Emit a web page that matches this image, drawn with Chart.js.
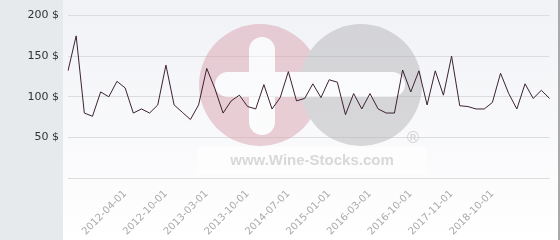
<!DOCTYPE html>
<html>
<head>
<meta charset="utf-8">
<script src="https://cdn.jsdelivr.net/npm/chart.js@4"></script>
<style>
  html, body { margin: 0; padding: 0; background: #ffffff; }
  #wrap { width: 560px; height: 240px; position: relative; }
</style>
</head>
<body>
<div id="wrap"><canvas id="c" width="560" height="240"></canvas></div>
<script>
// ---- data ----
const categories = [
  '2011-08-01','2011-09-01','2011-10-01','2011-11-01','2011-12-01','2012-02-01','2012-03-01',
  '2012-04-01','2012-05-01','2012-06-01','2012-07-01','2012-09-01',
  '2012-10-01','2012-11-01','2012-12-01','2013-01-01','2013-02-01',
  '2013-03-01','2013-04-01','2013-05-01','2013-07-01','2013-09-01',
  '2013-10-01','2013-12-01','2014-02-01','2014-04-01','2014-05-01',
  '2014-07-01','2014-08-01','2014-09-01','2014-10-01','2014-12-01',
  '2015-01-01','2015-04-01','2015-07-01','2015-09-01','2015-12-01',
  '2016-03-01','2016-04-01','2016-06-01','2016-07-01','2016-09-01',
  '2016-10-01','2017-01-01','2017-04-01','2017-06-01','2017-09-01',
  '2017-11-01','2018-01-01','2018-03-01','2018-05-01','2018-08-01',
  '2018-10-01','2018-12-01','2019-02-01','2019-04-01','2019-06-01','2019-08-01','2019-10-01','2019-12-01'
];
const prices = [
  132, 175, 80, 76, 106, 100, 119, 111, 80, 85,
  80, 90, 139, 90, 81, 72, 90, 135, 110, 80,
  95, 102, 88, 85, 115, 85, 99, 131, 95, 98,
  116, 99, 121, 118, 78, 104, 85, 104, 85, 80,
  80, 133, 106, 132, 90, 132, 102, 150, 89, 88,
  85, 85, 93, 129, 104, 85, 116, 98, 108, 98
];
const shownDateLabels = [
  '2012-04-01','2012-10-01','2013-03-01','2013-10-01','2014-07-01',
  '2015-01-01','2016-03-01','2016-10-01','2017-11-01','2018-10-01'
];
const yTickValues = [50, 100, 150, 200];
const watermarkText = 'www.Wine-Stocks.com';

// ---- plugins ----
const bgPlugin = {
  id: 'bg',
  beforeDraw(chart) {
    const ctx = chart.ctx;
    const W = chart.width, H = chart.height;
    ctx.save();
    const g = ctx.createLinearGradient(0, 0, 0, H);
    g.addColorStop(0, '#f1f2f6');
    g.addColorStop(1, '#ffffff');
    ctx.fillStyle = g;
    ctx.fillRect(0, 0, W, H);
    ctx.fillStyle = '#e6eaed';
    ctx.fillRect(0, 0, 63, H);
    ctx.restore();
  },
  afterDraw(chart) {
    const ctx = chart.ctx;
    ctx.save();
    ctx.fillStyle = '#a9a9a9';
    ctx.fillRect(chart.width - 2, 0, 2, chart.height);
    ctx.restore();
  }
};

function roundRect(c, x, y, w, h) {
  const r = Math.min(w, h) / 2;
  c.beginPath();
  c.moveTo(x + r, y);
  c.lineTo(x + w - r, y);
  c.arcTo(x + w, y, x + w, y + r, r);
  c.lineTo(x + w, y + h - r);
  c.arcTo(x + w, y + h, x + w - r, y + h, r);
  c.lineTo(x + r, y + h);
  c.arcTo(x, y + h, x, y + h - r, r);
  c.lineTo(x, y + r);
  c.arcTo(x, y, x + r, y, r);
  c.closePath();
  c.fill();
}

const watermarkPlugin = {
  id: 'watermark',
  beforeDatasetsDraw(chart) {
    const ctx = chart.ctx;
    const off = document.createElement('canvas');
    off.width = chart.width; off.height = chart.height;
    const o = off.getContext('2d');
    o.fillStyle = '#d9a3b0';
    o.beginPath(); o.arc(260, 85, 61, 0, Math.PI * 2); o.fill();
    o.fillStyle = '#b6b6b9';
    o.beginPath(); o.arc(361, 85, 61, 0, Math.PI * 2); o.fill();
    o.fillStyle = '#ffffff';
    roundRect(o, 215, 72, 190, 25);
    roundRect(o, 249, 37, 26, 98);
    ctx.save();
    ctx.globalAlpha = 0.5;
    ctx.drawImage(off, 0, 0);
    ctx.globalAlpha = 0.55;
    ctx.fillStyle = '#ffffff';
    ctx.fillRect(197, 147, 230, 27);
    ctx.globalAlpha = 1;
    ctx.fillStyle = '#d8d8d8';
    ctx.font = 'bold 15px "Liberation Sans", Arial, sans-serif';
    ctx.textAlign = 'center';
    ctx.textBaseline = 'alphabetic';
    ctx.fillText(watermarkText, 312, 165);
    ctx.fillStyle = '#d2d2d2';
    ctx.font = '16px "DejaVu Sans", sans-serif';
    ctx.textBaseline = 'middle';
    ctx.fillText('\u00AE', 413, 139);
    ctx.restore();
  }
};

Chart.defaults.font.family = '"DejaVu Sans", sans-serif';

new Chart(document.getElementById('c'), {
  type: 'line',
  data: {
    labels: categories,
    datasets: [{
      data: prices,
      borderColor: '#3b2233',
      borderWidth: 1,
      pointRadius: 0,
      tension: 0,
      fill: false
    }]
  },
  options: {
    responsive: false,
    animation: false,
    devicePixelRatio: 1,
    layout: { padding: { top: 14, right: 5, left: 0, bottom: 0 } },
    plugins: { legend: { display: false }, tooltip: { enabled: false } },
    scales: {
      x: {
        grid: { display: false },
        border: { display: false },
        afterFit(scale) { scale.height = 62; },
        ticks: {
          autoSkip: false,
          minRotation: 45,
          maxRotation: 45,
          padding: 2,
          color: '#aaaaaa',
          font: { size: 10 },
          callback(value, index) {
            const lab = categories[index];
            return shownDateLabels.includes(lab) ? lab : '';
          }
        }
      },
      y: {
        min: 0,
        max: 200,
        afterFit(scale) { scale.width = 68; },
        afterBuildTicks(scale) {
          scale.ticks = [0].concat(yTickValues).map(v => ({ value: v }));
        },
        grid: { color: '#dcdcdc', drawTicks: false, lineWidth: 1 },
        border: { display: false },
        ticks: {
          padding: 9,
          color: '#333333',
          font: { size: 11 },
          callback(v) { return v === 0 ? '' : v + ' $'; }
        }
      }
    }
  },
  plugins: [bgPlugin, watermarkPlugin]
});
</script>
</body>
</html>
